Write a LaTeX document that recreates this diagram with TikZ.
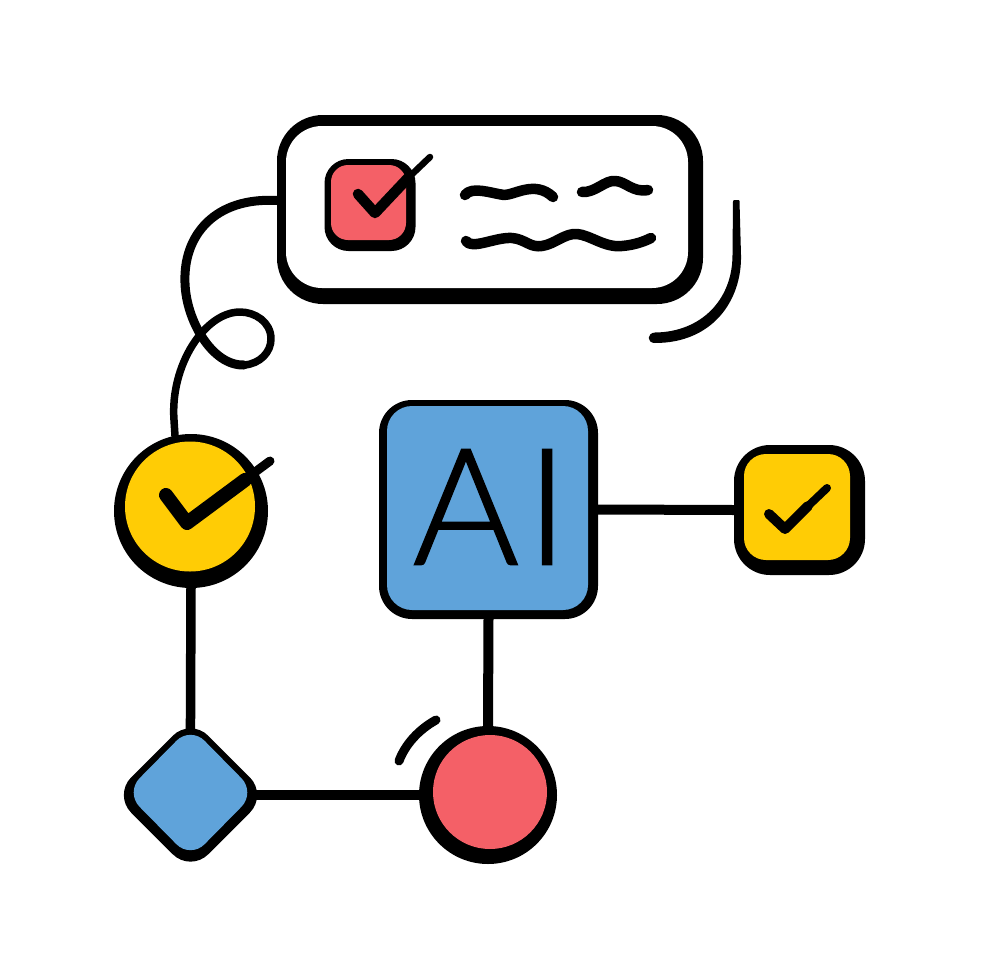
\documentclass[tikz,border=0pt]{standalone}
\usepackage{fontspec}
\setmainfont{Lato Light}
\usetikzlibrary{shapes.geometric}
\pgfdeclarelayer{back}
\pgfsetlayers{back,main}
\definecolor{cred}{HTML}{F46067}
\definecolor{cblue}{HTML}{5FA3DA}
\definecolor{cyel}{HTML}{FFCC05}
\tikzset{
  ink/.style={line cap=round,line join=round,draw=black},
  wire/.style={ink,line width=9.5pt},
  rbox/.style={shape=rectangle,inner sep=0pt,outer sep=0pt,draw=none},
  rdisc/.style={shape=circle,inner sep=0pt,outer sep=0pt,draw=none},
  rdia/.style={shape=diamond,aspect=1,inner sep=0pt,outer sep=0pt,draw=none},
}
\begin{document}
\begin{tikzpicture}[x=1pt,y=-1pt]
\useasboundingbox (0,0) rectangle (980,980);
\begin{pgfonlayer}{back}
\fill[white] (0,0) rectangle (980,980);
\end{pgfonlayer}
% card
\node[rbox,fill=black,minimum width=426pt,minimum height=189pt,rounded corners=46pt] (card) at (490,209.5) {};
\node[rbox,fill=white,minimum width=402pt,minimum height=162pt,rounded corners=36pt] (cardin) at (487,207) {};
% red checkbox
\node[rbox,fill=black,minimum width=91pt,minimum height=92pt,rounded corners=24pt] (chk) at (370,205) {};
\node[rbox,fill=cred,minimum width=75pt,minimum height=75pt,rounded corners=17pt] (chkin) at (368.5,202.5) {};
\draw[ink,line width=10.5pt] (358,194) -- (375,213) -- (408,178);
\draw[ink,line width=6.5pt] (406,180) -- (430,157);
% waves
\draw[ink,line width=10.5pt] (465,195) .. controls (472,186) and (490,193) .. (504,195)
  .. controls (515,195) and (535,180) .. (553,197);
\draw[ink,line width=10.5pt] (582,192) .. controls (595,193) and (605,180) .. (615,181)
  .. controls (625,181) and (633,193) .. (648,190);
\draw[ink,line width=10.5pt] (466,241) .. controls (472,250) and (495,237) .. (512,238)
  .. controls (525,239) and (530,248) .. (542,246)
  .. controls (555,244) and (565,233) .. (577,234)
  .. controls (590,235) and (605,248) .. (622,246)
  .. controls (635,245) and (645,241) .. (651,238);
% offset stroke at the right of the card
\fill[ink,line width=2pt] (734,201) -- (733.5,255) .. controls (733.5,300) and (702,333) .. (655,333.5)
  .. controls (648,334) and (648,342) .. (655,342)
  .. controls (712,342) and (741,300) .. (740,255) -- (738.5,201) -- cycle;
% yellow circle
\node[rdisc,fill=black,minimum size=154pt] (yc) at (191,511) {};
\node[rdisc,fill=cyel,minimum size=130pt] (ycin) at (190,506.5) {};
\draw[ink,line width=14pt] (166,495) -- (187,523) -- (245,480);
\draw[ink,line width=9pt] (243,481) -- (270,461);
% AI box
\node[rbox,fill=black,minimum width=219pt,minimum height=219pt,rounded corners=33pt] (ai) at (488.5,509.5) {};
\node[rbox,fill=cblue,minimum width=201pt,minimum height=204pt,rounded corners=25pt] (aiin) at (487.5,508) {};
\node[inner sep=0pt,font=\fontsize{162}{162}\selectfont\addfontfeature{FakeBold=1.2},text=black] (ailabel) at (490.5,507) {A\kern7pt I};
% yellow checkbox
\node[rbox,fill=black,minimum width=131pt,minimum height=130pt,rounded corners=36pt] (yb) at (799.5,510) {};
\node[rbox,fill=cyel,minimum width=106pt,minimum height=106pt,rounded corners=22pt] (ybin) at (797,507) {};
\draw[ink,line width=10pt] (769,514) -- (785,529) -- (808,506);
\draw[ink,line width=8pt] (806,508) -- (827,488);
% diamond
\node[rdia,fill=black,minimum width=154pt,minimum height=154pt,rounded corners=25pt] (dm) at (190.5,795) {};
\node[rdia,fill=cblue,minimum width=130pt,minimum height=132pt,rounded corners=20pt] (dmin) at (190.5,792.5) {};
% red circle
\node[rdisc,fill=black,minimum size=138pt] (rc) at (488,795) {};
\node[rdisc,fill=cred,minimum size=114pt] (rcin) at (490,792) {};
% small arc
\draw[ink,line width=9pt] (399,761) .. controls (405,745) and (418,730) .. (436,720);
% connectors
\begin{pgfonlayer}{back}
\draw[ink,line width=9pt] ([yshift=9pt]card.west) .. controls (215,197) and (183,235) .. (185,283)
  .. controls (186,320) and (212,366) .. (244,365);
\draw[ink,line width=7.5pt] (244,365) .. controls (260,364) and (271,352) .. (271,339)
  .. controls (271,322) and (255,312) .. (240,312)
  .. controls (205,312) and (170,365) .. (174,420) -- (yc.102);
\draw[wire,shorten >=-16pt] (yc.south) -- (dm.north);
\draw[wire,shorten <=-16pt] (dm.east) -- (rc.west);
\draw[wire,line width=10pt] (ai.south) -- (rc.north);
\draw[wire,line width=10pt] (ai.east) -- (yb.west);
\end{pgfonlayer}
\end{tikzpicture}
\end{document}
